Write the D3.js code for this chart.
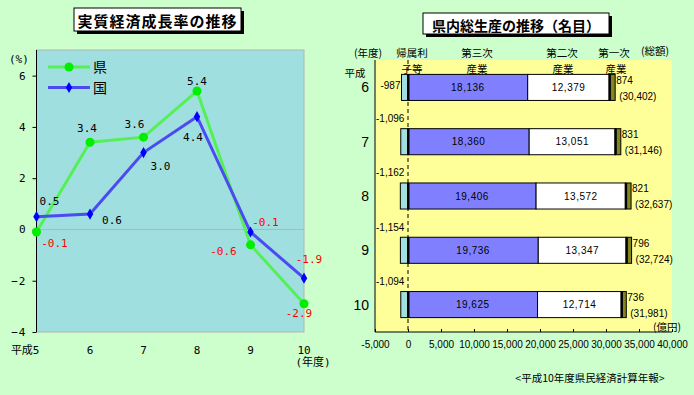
<!DOCTYPE html>
<html>
<head>
<meta charset="utf-8">
<script src="https://cdn.jsdelivr.net/npm/d3@7"></script>
<style>
  body { margin: 0; background: #ccffcc; }
  svg { display: block; }
  .mono { font-family: "DejaVu Sans Mono", "Noto Sans CJK JP", monospace; font-size: 11px; }
  .jp { font-family: "Noto Sans CJK JP", sans-serif; }
  .num { font-family: "Liberation Sans", Arial, sans-serif; font-size: 10px; }
</style>
</head>
<body>
<svg id="chart" width="694" height="395"></svg>
<script>
// growth rate chart data
const years = [5, 6, 7, 8, 9, 10];
const kenRate = [-0.1, 3.4, 3.6, 5.4, -0.6, -2.9];
const kuniRate = [0.5, 0.6, 3.0, 4.4, -0.1, -1.9];
const rateTicks = [-4, -2, 0, 2, 4, 6];

// gross product chart data (oku yen)
const gdpYears = ['6', '7', '8', '9', '10'];
const imputedInterest = [-987, -1096, -1162, -1154, -1094];
const tertiary = [18136, 18360, 19406, 19736, 19625];
const secondary = [12379, 13051, 13572, 13347, 12714];
const primary = [874, 831, 821, 796, 736];
const totals = [30402, 31146, 32637, 32724, 31981];
const gdpTicks = [-5000, 0, 5000, 10000, 15000, 20000, 25000, 30000, 35000, 40000];

const svg = d3.select('#chart');

// background
svg.append('rect').attr('width', 694).attr('height', 395).attr('fill', '#ccffcc');

function titleBox(x, y, w, h, text, size, spacing) {
    svg.append('rect').attr('x', x + 3).attr('y', y + 3).attr('width', w).attr('height', h).attr('fill', '#000');
    svg.append('rect').attr('x', x).attr('y', y).attr('width', w).attr('height', h)
        .attr('fill', '#fff').attr('stroke', '#000').attr('stroke-width', 1);
    svg.append('text').attr('class', 'jp')
        .attr('x', x + w / 2).attr('y', y + h / 2 + 1)
        .attr('text-anchor', 'middle').attr('dominant-baseline', 'central')
        .style('font-size', size + 'px').style('font-weight', 'bold')
        .style('letter-spacing', spacing + 'px')
        .text(text);
}

//////// left chart: 実質経済成長率の推移
titleBox(74, 8, 167, 23, '実質経済成長率の推移', 15, 1);

const lx = d3.scalePoint().domain(years).range([36.5, 304]);
const ly = d3.scaleLinear().domain([-4, 7]).range([332, 50]);

const left = svg.append('g');
left.append('rect').attr('x', 36.5).attr('y', 50).attr('width', 304 - 36.5).attr('height', 282)
    .attr('fill', '#a0dfdf').attr('stroke', '#b4b4b4');

left.append('line').attr('x1', 36.5).attr('x2', 304).attr('y1', ly(0)).attr('y2', ly(0))
    .attr('stroke', '#b4b4b4');

const yAxis = left.append('g').attr('transform', 'translate(36.5,0)')
    .call(d3.axisLeft(ly).tickValues(rateTicks).tickSize(4).tickFormat(d3.format('d')));
yAxis.select('.domain').attr('stroke', '#000').attr('d', 'M0,50V332');
yAxis.selectAll('text').attr('class', 'mono').attr('fill', '#000').attr('font-family', null).attr('font-size', null)
    .attr('x', -10).style('letter-spacing', '1px');

left.append('text').attr('class', 'mono').attr('x', 9).attr('y', 63).text('(%)');

// x labels
left.selectAll('.xlab').data(years).enter().append('text')
    .attr('class', 'mono')
    .attr('x', d => lx(d)).attr('y', 354)
    .attr('text-anchor', (d, i) => i == 0 ? 'end' : 'middle')
    .attr('dx', (d, i) => i == 0 ? 3 : 0)
    .text((d, i) => i == 0 ? '平成' + d : d);
left.append('text').attr('class', 'mono').attr('x', 313).attr('y', 366)
    .attr('text-anchor', 'middle').text('(年度)');

const line = d3.line().x((d, i) => lx(years[i])).y(d => ly(d));

left.append('path').datum(kenRate).attr('d', line)
    .attr('fill', 'none').attr('stroke', '#55f055').attr('stroke-width', 3);
left.append('path').datum(kuniRate).attr('d', line)
    .attr('fill', 'none').attr('stroke', '#4b4bf2').attr('stroke-width', 3);

left.selectAll('.kenpt').data(kenRate).enter().append('circle')
    .attr('cx', (d, i) => lx(years[i])).attr('cy', d => ly(d)).attr('r', 4.5).attr('fill', '#00ee00');
left.selectAll('.kunipt').data(kuniRate).enter().append('path')
    .attr('transform', (d, i) => 'translate(' + lx(years[i]) + ',' + ly(d) + ')')
    .attr('d', d3.symbol().type(d3.symbolDiamond).size(36)).attr('fill', '#0000ff');

// legend
left.append('line').attr('x1', 48).attr('x2', 90).attr('y1', 67).attr('y2', 67).attr('stroke', '#55f055').attr('stroke-width', 3);
left.append('circle').attr('cx', 69).attr('cy', 67).attr('r', 4.5).attr('fill', '#00ee00');
left.append('text').attr('class', 'jp').attr('x', 93).attr('y', 72).style('font-size', '14px').text('県');
left.append('line').attr('x1', 48).attr('x2', 90).attr('y1', 87.5).attr('y2', 87.5).attr('stroke', '#4b4bf2').attr('stroke-width', 3);
left.append('path').attr('transform', 'translate(69,87.5)')
    .attr('d', d3.symbol().type(d3.symbolDiamond).size(36)).attr('fill', '#0000ff');
left.append('text').attr('class', 'jp').attr('x', 93).attr('y', 93).style('font-size', '14px').text('国');

// value labels, offsets are layout only
const kenOffset = [[18, 11], [-3, -14], [-9, -13], [0, -10], [-27, 7], [-5, 10]];
const kuniOffset = [[13, -15], [22, 6], [17, 14], [-4, 21], [15, -10], [5, -19]];

function rateLabels(data, offset) {
    left.selectAll(null).data(data).enter().append('text')
        .attr('class', 'mono')
        .attr('x', (d, i) => lx(years[i]) + offset[i][0])
        .attr('y', (d, i) => ly(d) + offset[i][1])
        .attr('text-anchor', 'middle').attr('dominant-baseline', 'central')
        .attr('fill', d => d < 0 ? '#ff0000' : '#000')
        .text(d => d.toFixed(1));
}
rateLabels(kenRate, kenOffset);
rateLabels(kuniRate, kuniOffset);

//////// right chart: 県内総生産の推移(名目)
titleBox(423, 13, 186, 21, '県内総生産の推移（名目）', 14, 0);

const rx = d3.scaleLinear().domain([-5000, 40000]).range([375, 672]);
const ry = d3.scaleBand().domain(gdpYears).range([60, 332]).paddingInner(0.52).paddingOuter(0.265);

const right = svg.append('g');
right.append('rect').attr('x', 375).attr('y', 60).attr('width', 297).attr('height', 272).attr('fill', '#ffff99');

right.append('line').attr('x1', 375).attr('x2', 375).attr('y1', 60).attr('y2', 332).attr('stroke', '#000');

const xAxis = right.append('g').attr('transform', 'translate(0,332)')
    .call(d3.axisBottom(rx).tickValues(gdpTicks).tickSize(-3).tickPadding(9).tickFormat(d3.format(',')));
xAxis.select('.domain').attr('stroke', '#000').attr('d', 'M375,0H672');
xAxis.selectAll('text').attr('class', 'num').attr('font-family', null).attr('font-size', null)
    .attr('fill', '#000').text(d => d3.format(',')(d).replace('−', '-'));

// zero dashed line
right.append('line').attr('x1', rx(0)).attr('x2', rx(0)).attr('y1', 60).attr('y2', 332)
    .attr('stroke', '#000').attr('stroke-dasharray', '4,3');

// stacked segments
const segs = [];
gdpYears.forEach((yr, i) => {
    let start = tertiary[i] + secondary[i];
    segs.push({ yr: yr, x0: imputedInterest[i], x1: 0, fill: '#a0e0e0', label: null });
    segs.push({ yr: yr, x0: 0, x1: tertiary[i], fill: '#8080ff', label: tertiary[i] });
    segs.push({ yr: yr, x0: tertiary[i], x1: start, fill: '#ffffff', label: secondary[i] });
    segs.push({ yr: yr, x0: start, x1: start + primary[i], fill: '#858520', label: null });
});

right.selectAll('.seg').data(segs).enter().append('rect')
    .attr('x', d => rx(d.x0)).attr('y', d => ry(d.yr))
    .attr('width', d => rx(d.x1) - rx(d.x0)).attr('height', ry.bandwidth())
    .attr('fill', d => d.fill).attr('stroke', '#000').attr('stroke-width', 1);

// thick line at zero inside bars
right.selectAll('.zero').data(gdpYears).enter().append('rect')
    .attr('x', rx(0) - 1).attr('y', d => ry(d)).attr('width', 2.5).attr('height', ry.bandwidth()).attr('fill', '#000');
// thick line between secondary and primary
right.selectAll('.sep').data(gdpYears).enter().append('rect')
    .attr('x', (d, i) => rx(tertiary[i] + secondary[i]) - 1).attr('y', d => ry(d))
    .attr('width', 2.5).attr('height', ry.bandwidth()).attr('fill', '#000');

right.selectAll('.seglab').data(segs.filter(d => d.label != null)).enter().append('text')
    .attr('class', 'num')
    .attr('x', d => (rx(d.x0) + rx(d.x1)) / 2).attr('y', d => ry(d.yr) + ry.bandwidth() / 2)
    .attr('text-anchor', 'middle').attr('dominant-baseline', 'central')
    .style('letter-spacing', '0.5px')
    .text(d => d3.format(',')(d.label));

// imputed interest labels: beside the bar if it fits, else above
right.selectAll('.implab').data(imputedInterest).enter().append('text')
    .attr('class', 'num')
    .each(function (d, i) {
        let t = d3.select(this).text('-' + d3.format(',')(-d));
        let w = this.getComputedTextLength();
        let bx = rx(d);
        if (bx - rx(-5000) > w + 2) {
            t.attr('x', bx - 1).attr('y', ry(gdpYears[i]) + 11).attr('text-anchor', 'end').attr('dominant-baseline', 'central');
        } else {
            t.attr('x', 376).attr('y', ry(gdpYears[i]) - 10).attr('dominant-baseline', 'central');
        }
    });

// primary and total labels
right.selectAll('.primlab').data(primary).enter().append('text')
    .attr('class', 'num')
    .attr('x', (d, i) => rx(tertiary[i] + secondary[i] + d) + 1)
    .attr('y', (d, i) => ry(gdpYears[i]) + 6)
    .attr('dominant-baseline', 'central')
    .text(d => d);
right.selectAll('.totlab').data(totals).enter().append('text')
    .attr('class', 'num')
    .attr('x', (d, i) => rx(tertiary[i] + secondary[i] + primary[i]) + 4)
    .attr('y', (d, i) => ry(gdpYears[i]) + 22)
    .attr('dominant-baseline', 'central')
    .text(d => '(' + d3.format(',')(d) + ')');

// category labels
right.selectAll('.ylab').data(gdpYears).enter().append('text')
    .attr('class', 'num')
    .attr('x', 369).attr('y', d => ry(d) + ry.bandwidth() / 2)
    .attr('text-anchor', 'end').attr('dominant-baseline', 'central')
    .style('font-size', '14px')
    .text(d => d);

// headers
const headers = [
    ['(年度)', 368, 52], ['平成', 355, 72],
    ['帰属利', 412, 52], ['子等', 412, 68],
    ['第三次', 477, 52], ['産業', 477, 68],
    ['第二次', 562, 52], ['産業', 563, 68],
    ['第一次', 614, 52], ['産業', 616, 68],
    ['(総額)', 655, 50]
];
right.selectAll('.hdr').data(headers).enter().append('text')
    .attr('class', 'jp')
    .attr('x', d => d[1]).attr('y', d => d[2])
    .attr('text-anchor', 'middle').attr('dominant-baseline', 'central')
    .style('font-size', '10.5px')
    .text(d => d[0]);

right.append('text').attr('class', 'jp').attr('x', 667).attr('y', 326)
    .attr('text-anchor', 'middle').attr('dominant-baseline', 'central')
    .style('font-size', '10.5px').text('(億円)');

svg.append('text').attr('class', 'jp').attr('x', 590).attr('y', 377)
    .attr('text-anchor', 'middle').attr('dominant-baseline', 'central')
    .style('font-size', '10.5px').text('<平成10年度県民経済計算年報>');
</script>
</body>
</html>
